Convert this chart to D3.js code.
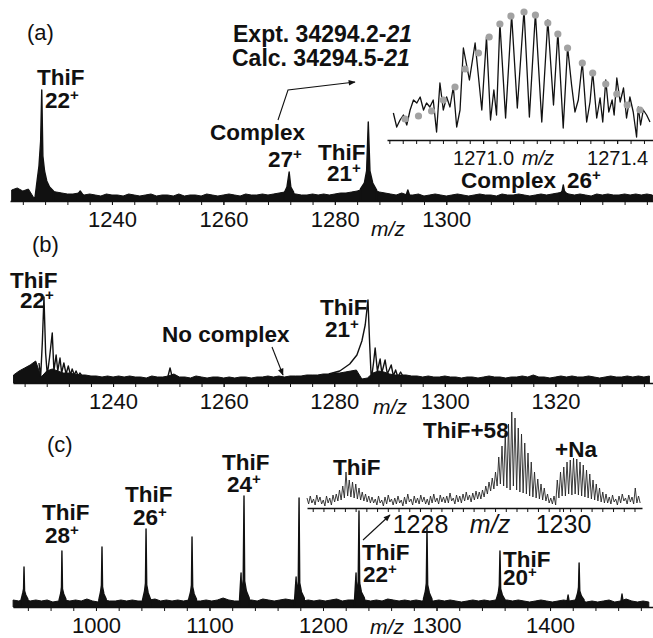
<!DOCTYPE html>
<html>
<head>
<meta charset="utf-8">
<script src="https://cdn.jsdelivr.net/npm/d3@7/dist/d3.min.js"></script>
<style>
  body { margin: 0; background: #fff; }
  svg text { font-family: "Liberation Sans", Arial, sans-serif; fill: #111; }
  .lbl { font-weight: bold; font-size: 22.5px; }
</style>
</head>
<body>
<svg id="chart" width="653" height="638"></svg>
<script>
// ---------- data (intensities in arbitrary units) ----------

// (a) ThiF + complex, m/z 1222-1337, noise sampled every 1 m/z
const aNoiseStart = 1222, aNoiseStep = 1;
const aNoise = [11,13,10,12,3,8,9,10,9,8, 7,7,8,6,7,6,5,7,6,6, 5,7,6,5,6,7,5,6,6,5,
  7,5,6,6,5,7,6,5,6,7, 6,5,7,6,6,7,6,7,8,9, 8,7,6,6,7,6,7,6,7,8, 8,9,10,12,8,11,9,8,7,6,
  8,6,6,7,5,6,7,6,5,6, 7,6,5,6,7,6,6,5,7,6, 6,7,6,5,6,7,6,7,8,9, 7,6,7,6,5,7,6,7,6,6, 7,6,7,6,7,6];
const aPeaks = [
  [[1226.2,4],[1226.6,22],[1226.9,35],[1227.2,60],[1227.4,111],[1227.6,45],[1227.9,30],[1228.3,20],[1228.8,14],[1229.5,10]],
  [[1233.8,6],[1234.3,10],[1234.8,6]],
  [[1270.9,8],[1271.4,14],[1271.8,29],[1272.1,14],[1272.6,9]],
  [[1284.6,12],[1285.3,18],[1285.7,30],[1286.0,79],[1286.3,30],[1286.8,18],[1287.5,11]],
  [[1292.8,6],[1293.1,11],[1293.4,6]],
  [[1320.4,7],[1320.8,10],[1321.0,16],[1321.2,10],[1321.6,7]]
];
const aTicks = [1240, 1260, 1280, 1300];

// (a) inset: Complex 26+ isotope envelope
const insAMz = [1270.732,1270.742,1270.752,1270.762,1270.772,1270.782,1270.792,1270.802,1270.812,1270.822,
  1270.831,1270.841,1270.851,1270.861,1270.871,1270.881,1270.891,1270.901,1270.911,1270.921,
  1270.931,1270.941,1270.959,1270.976,1270.996,1271.010,1271.022,1271.032,1271.040,1271.050,
  1271.067,1271.085,1271.102,1271.122,1271.138,1271.156,1271.175,1271.193,1271.210,1271.223,
  1271.239,1271.252,1271.264,1271.274,1271.284,1271.296,1271.309,1271.319,1271.327,1271.339,
  1271.349,1271.357,1271.366,1271.375,1271.385,1271.391,1271.399,1271.409,1271.419,1271.428,
  1271.438,1271.448,1271.458,1271.463,1271.470,1271.478,1271.488,1271.498];
const insAInt = [27,13,20,25,15,30,40,37,43,30, 37,33,40,8,57,30,43,33,53,13,
  30,92,60,97,30,103,20,50,25,117, 22,125,32,130,23,127,18,120,35,108,
  12,93,55,28,40,78,18,38,68,22, 42,18,60,28,40,25,62,38,52,22, 43,28,3,33,15,30,25,18];
const insADotMz = [1270.767,1270.807,1270.846,1270.881,1270.916,1270.946,1270.986,1271.018,1271.050,1271.083,
  1271.122,1271.156,1271.193,1271.223,1271.252,1271.296,1271.327,1271.366,1271.399,1271.430,1271.468];
const insADotInt = [21,24,29,40,53,71,87,103,116,124,128,125,117,106,92,77,67,56,46,35,30];
const insATicks = [1271.0, 1271.4];

// (b) ThiF alone
const bNoiseStart = 1222, bNoiseStep = 1;
const bNoise = [8,12,15,18,22,6,12,14,12,10, 10,9,8,8,7,7,6,7,6,7, 6,7,6,6,5,7,6,6,7,9,
  6,6,5,7,6,5,6,6,5,6, 5,6,6,5,6,6,7,6,7,6, 7,7,7,8,8,8,9,9,10,10, 11,12,13,4,5,10,12,11,9,8,
  8,8,7,7,6,7,6,6,7,6, 6,5,6,6,5,6,7,6,6,5, 6,6,7,6,8,6,6,5,6,7, 6,7,6,6,7,6,5,6,7,6, 6,7,6,7,6,7];
const bPeaks = [
  [[1226.6,20],[1226.9,6],[1227.2,40],[1227.5,86],[1227.8,30],[1228.1,8],[1228.5,25],[1229.0,50],[1229.3,12],
   [1229.7,28],[1230.0,12],[1230.4,25],[1230.7,10],[1231.1,20],[1231.5,9],[1231.9,17],[1232.3,8],[1232.6,14],
   [1233.0,8],[1233.3,12],[1233.7,7],[1234.0,10],[1234.5,6]],
  [[1249.9,6],[1250.3,15],[1250.7,6]],
  [[1279.0,9],[1281.0,12],[1282.8,19],[1284.1,28],[1285.0,42],[1285.6,58],[1286.1,83],[1286.4,40],[1286.7,3],
   [1287.1,20],[1287.4,35],[1287.8,12],[1288.3,24],[1288.6,10],[1289.2,23],[1289.6,9],[1290.3,18],[1290.7,7],
   [1291.1,13],[1291.5,6],[1292.0,11],[1292.5,6]]
];
const bTicks = [1240, 1260, 1280, 1300, 1320];

// (c) wide range, noise sampled every 5 m/z
const cNoiseStart = 927, cNoiseStep = 5;
const cNoise = [7,6,8,6,7,6,7,5,6,7, 6,7,6,8,6,5,7,6,6,7, 6,7,6,6,7,8,6,7,6,7, 6,7,6,6,7,6,7,9,7,6,
  6,7,7,6,8,7,6,7,8,7, 7,6,7,6,7,6,7,8,6,7, 7,8,7,6,7,6,8,7,6,7, 6,7,6,7,6,7,6,7,6,5,
  6,7,6,7,6,7,6,7,6,7, 6,5,6,7,6,5,6,7,6,7, 6,5,6,5,6,7,5,6,8,6, 5,6,5];
const cPeaks = [
  [[934,7],[935.5,14],[936.2,18],[936.6,40],[937.1,16],[938.2,12],[940,8]],
  [[967.5,7],[969,14],[969.6,20],[970,56],[970.5,18],[971.6,13],[973.5,8]],
  [[1002.5,7],[1004,15],[1004.8,22],[1005.3,60],[1005.8,20],[1007,13],[1009,8]],
  [[1041,7],[1042.8,16],[1043.6,24],[1044.1,78],[1044.7,22],[1046,14],[1048,8]],
  [[1081.5,7],[1083.3,15],[1084.1,22],[1084.6,70],[1085.2,20],[1086.5,13],[1088.5,8]],
  [[1126.5,8],[1127.8,34],[1128.3,12],[1129.7,28],[1130.4,111],[1131,26],[1132.5,16],[1135,9]],
  [[1175,8],[1176.3,30],[1176.8,12],[1178.2,26],[1178.9,109],[1179.5,24],[1181,15],[1183.5,9]],
  [[1227.8,8],[1229.1,34],[1229.6,12],[1231,26],[1231.7,96],[1232.3,24],[1233.8,15],[1236.5,9]],
  [[1288.5,8],[1290.2,16],[1291,24],[1291.6,80],[1292.2,22],[1293.7,14],[1296,8]],
  [[1352.5,7],[1354.4,14],[1355.3,22],[1355.9,56],[1356.5,18],[1358,12],[1360.5,7]],
  [[1415,6],[1415.9,12],[1416.8,6]],
  [[1422.5,7],[1424.3,14],[1425.1,20],[1425.6,44],[1426.2,16],[1427.6,11],[1430,7]],
  [[1462.5,6],[1463.4,13],[1464.3,6]]
];
const cTicks = [1000, 1100, 1200, 1300, 1400];
const cCharges = ['28', '26', '24', '22', '20'];

// (c) inset: ThiF 22+ region, one top/valley pair per isotope (1/22 m/z apart)
const insCStart = 1226.42, insCStep = 1 / 22;
const insCTop = [10,12,9,13,11,8,12,10,13, 14,18,22,36,28,26,24,20,16,14,12,11,
  9,12,8,11,13,9,10,12,8,11, 14,9,12,10,13,11,9,12,14,10, 13,11,12,15,10,13,12,14,16,13, 15,17,16,18,
  22,26,30,36,51,62,75,84,96,90,80,74,65,55,46,36,29,24,20,14,10,
  12,28,36,41,46,48,50,49,46,43,38,34,28,24,20,16,14,
  11,13,9,12,14,10,13,11,20,12];
const insCLow = [4,5,3,6,4,2,5,3,6, 7,8,10,12,11,10,9,8,7,6,5,5,
  3,5,2,4,6,3,4,5,2,4, 6,3,5,4,6,4,3,5,6,4, 6,5,5,7,4,6,5,7,8,6, 8,9,9,11,
  14,17,19,22,24,22,20,18,22,18,16,15,14,12,11,10,9,8,7,5,4,
  3,10,12,12,14,13,14,13,12,11,10,9,8,7,6,5,5,
  4,6,3,5,7,4,6,4,5,5];
const insCTicks = [1228, 1230];

// ---------- drawing ----------
const ink = '#111';
const svg = d3.select('#chart');
svg.append('rect').attr('width', 653).attr('height', 638).attr('fill', '#fff');

svg.append('defs').append('marker')
    .attr('id', 'arrow').attr('viewBox', '0 0 10 10')
    .attr('refX', 9).attr('refY', 5)
    .attr('markerUnits', 'userSpaceOnUse')
    .attr('markerWidth', 10).attr('markerHeight', 7)
    .attr('orient', 'auto')
  .append('path').attr('d', 'M0,1L10,5L0,9z').attr('fill', ink);

const sampled = (start, step, vals) => vals.map((v, i) => [start + i * step, v]);

// noise band is filled; peaks are stroked and optionally filled down to the axis
function spectrum(x, y, noise, peaks, fillPeaks) {
  svg.append('path').datum(noise)
      .attr('fill', ink).attr('stroke', ink).attr('stroke-width', 1)
      .attr('d', d3.area().x(d => x(d[0])).y0(y(0)).y1(d => y(d[1])));
  svg.append('g').selectAll('path').data(peaks).join('path')
      .attr('fill', fillPeaks ? ink : 'none').attr('stroke', ink).attr('stroke-width', 1.4)
      .attr('stroke-linejoin', 'round')
      .attr('d', fillPeaks
        ? d3.area().x(d => x(d[0])).y0(y(0)).y1(d => y(d[1]))
        : d3.line().x(d => x(d[0])).y(d => y(d[1])));
}

function axis(yPos, x, minor, major, fmt, size, pad) {
  svg.append('g').attr('transform', `translate(0,${yPos})`)
      .call(d3.axisBottom(x).tickValues(minor).tickSize(4).tickSizeOuter(0).tickFormat(''))
      .call(g => g.select('.domain').attr('stroke', ink).attr('stroke-width', 1.4))
      .call(g => g.selectAll('.tick line').attr('stroke', ink));
  svg.append('g').attr('transform', `translate(0,${yPos})`)
      .call(d3.axisBottom(x).tickValues(major).tickSize(4).tickSizeOuter(0).tickPadding(pad).tickFormat(fmt))
      .attr('font-family', '"Liberation Sans", Arial, sans-serif').attr('font-size', size)
      .call(g => g.select('.domain').remove())
      .call(g => g.selectAll('.tick line').attr('stroke', ink));
}

function text(x, y, str, size, opts = {}) {
  return svg.append('text').attr('x', x).attr('y', y)
      .attr('font-size', size)
      .attr('font-style', opts.italic ? 'italic' : null)
      .attr('font-weight', opts.bold ? 'bold' : null)
      .attr('text-anchor', opts.anchor || 'start')
      .text(str);
}

function ion(name, charge, nx, ny, cx, cy) {
  if (name) svg.append('text').attr('class', 'lbl').attr('x', nx).attr('y', ny).text(name);
  const t = svg.append('text').attr('class', 'lbl').attr('x', cx).attr('y', cy).text(charge);
  t.append('tspan').attr('font-size', 15).attr('dy', -8).text('+');
}

function arrow(points) {
  svg.append('path').datum(points)
      .attr('fill', 'none').attr('stroke', ink).attr('stroke-width', 1.1)
      .attr('marker-end', 'url(#arrow)')
      .attr('d', d3.line());
}

// ----- panel (a) -----
const xA = d3.scaleLinear().domain([1221.7, 1337.1]).range([10, 653]);
const yA = d3.scaleLinear().domain([0, 100]).range([201, 101]);
spectrum(xA, yA, sampled(aNoiseStart, aNoiseStep, aNoise), aPeaks, true);
axis(201, xA, d3.range(1224, 1337, 4), aTicks, d3.format('d'), 22, 6);
text(388, 236, 'm/z', 21, {italic: true, anchor: 'middle'});
text(27, 40, '(a)', 22);
ion('ThiF', '22', 37, 85, 45, 108);
ion('Complex', '27', 210, 140, 268, 167);
ion('ThiF', '21', 318, 160, 327, 181);

const expt = text(233, 42, 'Expt. 34294.2-', 23, {bold: true});
expt.append('tspan').attr('font-style', 'italic').text('21');
const calc = text(232, 66, 'Calc. 34294.5-', 23, {bold: true});
calc.append('tspan').attr('font-style', 'italic').text('21');
arrow([[278, 120], [288, 90], [355, 82]]);

// inset (a)
const xIA = d3.scaleLinear().domain([1270.713, 1271.507]).range([387, 653]);
const yIA = d3.scaleLinear().domain([0, 100]).range([140, 40]);
axis(140, xIA, d3.range(1270.72, 1271.5, 0.04), insATicks, d3.format('.1f'), 20, 7);
text(538, 165, 'm/z', 20, {italic: true, anchor: 'middle'});
svg.append('path').datum(d3.zip(insAMz, insAInt))
    .attr('fill', 'none').attr('stroke', ink).attr('stroke-width', 1.3)
    .attr('stroke-linejoin', 'round')
    .attr('d', d3.line().x(d => xIA(d[0])).y(d => yIA(d[1])));
svg.append('g').selectAll('circle').data(d3.zip(insADotMz, insADotInt)).join('circle')
    .attr('cx', d => xIA(d[0])).attr('cy', d => yIA(d[1]))
    .attr('r', 3.6).attr('fill', '#a2a2a2');
text(556, 188, 'Complex', 22.5, {bold: true, anchor: 'end'});
ion(null, '26', 0, 0, 567, 188);

// ----- panel (b) -----
const xB = d3.scaleLinear().domain([1221.9, 1337.65]).range([13, 653]);
const yB = d3.scaleLinear().domain([0, 100]).range([383, 283]);
spectrum(xB, yB, sampled(bNoiseStart, bNoiseStep, bNoise), bPeaks, false);
axis(383, xB, d3.range(1224, 1337, 4), bTicks, d3.format('d'), 22, 6);
text(390, 414, 'm/z', 21, {italic: true, anchor: 'middle'});
text(32, 252, '(b)', 22);
ion('ThiF', '22', 10, 288, 20, 308);
ion('ThiF', '21', 320, 315, 325, 337);
text(162, 342, 'No complex', 22.5, {bold: true});
arrow([[272, 347], [283, 375]]);

// ----- panel (c) -----
const xC = d3.scaleLinear().domain([926.9, 1490.7]).range([13, 653]);
const yC = d3.scaleLinear().domain([0, 100]).range([607, 507]);
spectrum(xC, yC, sampled(cNoiseStart, cNoiseStep, cNoise), cPeaks, true);
axis(607, xC, d3.range(940, 1490, 20), cTicks, d3.format('d'), 22, 6);
text(387, 634, 'm/z', 21, {italic: true, anchor: 'middle'});
text(47, 452, '(c)', 22);
const cLabelPos = [[42, 520, 45, 543], [125, 502, 133, 525], [222, 470, 227, 492], [362, 560, 363, 582], [503, 567, 503, 585]];
cCharges.forEach((c, i) => ion('ThiF', c, ...cLabelPos[i]));

// inset (c)
const xIC = d3.scaleLinear().domain([1226.42, 1231.105]).range([307, 642]);
const yIC = d3.scaleLinear().domain([0, 100]).range([508, 408]);
const insC = [];
insCTop.forEach((v, i) => {
  insC.push([insCStart + i * insCStep, v]);
  insC.push([insCStart + (i + 0.5) * insCStep, insCLow[i]]);
});
svg.append('path').datum(insC)
    .attr('fill', 'none').attr('stroke', '#262626').attr('stroke-width', 0.9)
    .attr('d', d3.line().x(d => xIC(d[0])).y(d => yIC(d[1])));
axis(508, xIC, d3.range(1226.5, 1231.05, 0.15), insCTicks, d3.format('d'), 25, 3);
text(490, 533, 'm/z', 25, {italic: true, anchor: 'middle'});
text(333, 475, 'ThiF', 22.5, {bold: true});
text(423, 438, 'ThiF+58', 22.5, {bold: true});
text(555, 457, '+Na', 22.5, {bold: true});
arrow([[363, 540], [390, 515]]);
</script>
</body>
</html>
